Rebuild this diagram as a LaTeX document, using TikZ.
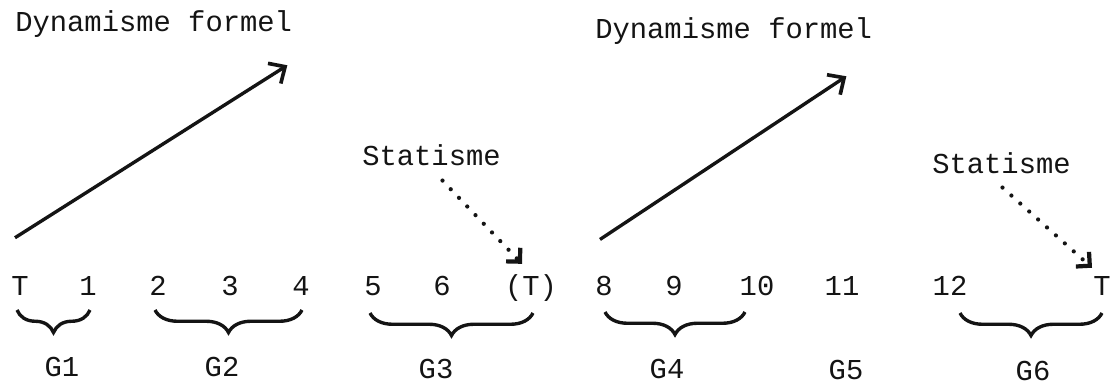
\documentclass[tikz,border=0pt]{standalone}
\usepackage{fontspec}
\setmonofont{Liberation Mono}
\usepackage{tikz}
\usetikzlibrary{arrows.meta, decorations.pathreplacing, positioning}
\definecolor{InkBlack}{RGB}{20,20,20}
\tikzset{
  txt/.style={font=\ttfamily\fontsize{20.5}{24}\selectfont, text=InkBlack, inner sep=0pt},
  title/.style={txt, anchor=base west},
  num/.style={txt, anchor=base},
  grp/.style={txt, anchor=base},
  arr/.style={-{Straight Barb[length=9pt,width=17pt,line width=2.6pt]}, draw=InkBlack, line width=2.4pt},
  dotarr/.style={-{Straight Barb[length=7pt,width=14pt,line width=3pt]}, draw=InkBlack, line width=3pt,
    line cap=round, dash pattern=on 0pt off 8.5pt},
  brc/.style={decorate, decoration={brace, mirror, amplitude=16pt}, draw=InkBlack, line width=2.4pt}
}

\begin{document}
\begin{tikzpicture}[x=0.025cm, y=-0.025cm]
  \useasboundingbox (0,0) rectangle (1116,389);

  % Headings
  \node[title] (dyn1)  at (15,31)   {Dynamisme formel};
  \node[title] (dyn2)  at (595,38)  {Dynamisme formel};
  \node[title] (stat1) at (362,165) {Statisme};
  \node[title] (stat2) at (932,173) {Statisme};

  % ── Number row ──
  \node[num] (tA)  at (20,295)   {T};
  \node[num] (n1)  at (88,295)   {1};
  \node[num] (n2)  at (158,295)  {2};
  \node[num] (n3)  at (230,295)  {3};
  \node[num] (n4)  at (301,295)  {4};
  \node[num] (n5)  at (373,295)  {5};
  \node[num] (n6)  at (442,295)  {6};
  \node[num] (tp)  at (531,295)  {(T)};
  \node[num] (n8)  at (604,295)  {8};
  \node[num] (n9)  at (674,295)  {9};
  \node[num] (n10) at (757,295)  {10};
  \node[num] (n11) at (842,295)  {11};
  \node[num] (n12) at (950,295)  {12};
  \node[num] (tB)  at (1102,295) {T};

  % ── Braces ──
  \draw[brc] (17,310)  -- (90,310);
  \draw[brc] (155,310) -- (302,310);
  \draw[brc] (370,313) -- (533,313);
  \draw[brc] (605,312) -- (745,312);
  \draw[brc] (960,313) -- (1102,313);

  % ── Group labels ──
  \node[grp] (g1) at (62,376)   {G1};
  \node[grp] (g2) at (222,376)  {G2};
  \node[grp] (g3) at (436,378)  {G3};
  \node[grp] (g4) at (667,378)  {G4};
  \node[grp] (g5) at (846,379)  {G5};
  \node[grp] (g6) at (1033,380) {G6};

  % ── Arrows ──
  \draw[arr] ([shift={(-5,-38)}]tA.north) -- ([shift={(-5,28)}]dyn1.south east);
  \draw[arr] ([shift={(-4,-36)}]n8.north) -- ([shift={(-26,32)}]dyn2.south east);
  \draw[dotarr] ([shift={(11,15)}]stat1.south) -- ([shift={(-9,-10)}]tp.north);
  \draw[dotarr] ([shift={(1,14)}]stat2.south) -- ([shift={(-10,-8)}]tB.north);
\end{tikzpicture}
\end{document}
